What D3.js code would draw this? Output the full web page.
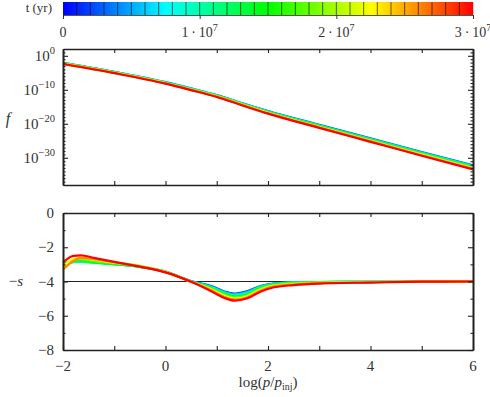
<!DOCTYPE html>
<html>
<head>
<meta charset="utf-8">
<script src="https://cdn.jsdelivr.net/npm/d3@7/dist/d3.min.js"></script>
<style>
  body { margin: 0; background: #fff; }
  text { font-family: "Liberation Serif", "DejaVu Serif", serif; fill: #333; }
</style>
</head>
<body>
<div id="chart"></div>
<script>
// snapshot times (yr), early -> late
const times = [2.5e6, 6e6, 10e6, 14e6, 18e6, 22e6, 26e6, 30e6];

// top panel: log10 f at log(p/pinj)
const fGrid = [-2, -1, 0, 0.5, 1, 1.5, 2, 3, 4, 5, 6];
const logF = [
  [-2.05, -4.70, -7.75, -9.60, -11.55, -13.95, -16.25, -20.30, -24.30, -28.30, -32.20],
  [-2.10, -4.76, -7.82, -9.67, -11.63, -14.04, -16.36, -20.43, -24.44, -28.46, -32.37],
  [-2.15, -4.82, -7.88, -9.74, -11.71, -14.12, -16.46, -20.56, -24.59, -28.61, -32.54],
  [-2.20, -4.87, -7.94, -9.82, -11.79, -14.21, -16.57, -20.69, -24.73, -28.77, -32.71],
  [-2.25, -4.93, -8.01, -9.89, -11.86, -14.30, -16.67, -20.82, -24.87, -28.93, -32.89],
  [-2.30, -4.99, -8.07, -9.96, -11.94, -14.39, -16.78, -20.94, -25.01, -29.08, -33.06],
  [-2.35, -5.04, -8.14, -10.03, -12.02, -14.48, -16.89, -21.07, -25.16, -29.24, -33.23],
  [-2.40, -5.10, -8.20, -10.10, -12.10, -14.60, -17.00, -21.20, -25.30, -29.40, -33.40]
];

// bottom panel: -s
const sGrid = [-2, -1.8, -1.65, -1.4, -1, -0.5, 0, 0.5, 0.9, 1.15, 1.35, 1.6, 1.85, 2.1, 2.5, 3, 4, 5, 6];
const minusS = [
  [-3.05, -2.85, -2.80, -2.85, -2.97, -3.15, -3.42, -3.98, -4.27, -4.58, -4.70, -4.56, -4.27, -4.12, -4.05, -4.03, -4.02, -4.01, -4.0],
  [-3.05, -2.85, -2.82, -2.87, -2.97, -3.15, -3.43, -3.99, -4.31, -4.62, -4.75, -4.62, -4.30, -4.13, -4.05, -4.03, -4.02, -4.01, -4.0],
  [-3.05, -2.87, -2.85, -2.90, -2.98, -3.14, -3.43, -4.00, -4.35, -4.67, -4.81, -4.68, -4.33, -4.15, -4.06, -4.03, -4.02, -4.01, -4.0],
  [-3.00, -2.80, -2.80, -2.90, -3.00, -3.13, -3.44, -4.00, -4.39, -4.72, -4.87, -4.74, -4.37, -4.18, -4.08, -4.04, -4.02, -4.01, -4.0],
  [-3.10, -2.75, -2.70, -2.80, -2.93, -3.08, -3.44, -4.01, -4.43, -4.78, -4.93, -4.80, -4.42, -4.22, -4.11, -4.06, -4.03, -4.01, -4.0],
  [-3.20, -2.68, -2.62, -2.73, -2.90, -3.10, -3.45, -4.01, -4.48, -4.84, -4.99, -4.86, -4.48, -4.26, -4.15, -4.08, -4.04, -4.01, -4.0],
  [-3.30, -2.80, -2.62, -2.70, -2.87, -3.12, -3.46, -4.02, -4.53, -4.90, -5.05, -4.92, -4.54, -4.30, -4.18, -4.10, -4.05, -4.01, -4.0],
  [-2.90, -2.50, -2.47, -2.62, -2.85, -3.13, -3.47, -4.02, -4.58, -4.96, -5.12, -4.98, -4.60, -4.35, -4.21, -4.12, -4.06, -4.01, -4.0]
];

const xTicks = [-2, 0, 2, 4, 6];
const fTicks = [0, -10, -20, -30];
const sTicks = [0, -2, -4, -6, -8];
const cbTicks = [0, 1e7, 2e7, 3e7];
const cbLabels = [["0", ""], ["1\u2009·\u200910", "7"], ["2\u2009·\u200910", "7"], ["3\u2009·\u200910", "7"]];

const W = 490, H = 397;
const L = 63, R = 473;

const svg = d3.select("#chart").append("svg")
  .attr("width", W).attr("height", H);

const color = t => d3.hsl(240 * (1 - t / 3e7), 1, 0.5).toString();

const x = d3.scaleLinear().domain([-2, 6]).range([L, R]);
const yF = d3.scaleLinear().domain([-38, 2]).range([185, 49]);
const yS = d3.scaleLinear().domain([-8, 0]).range([350, 213]);
const cb = d3.scaleLinear().domain([0, 3e7]).range([L, R]);

// ---- colour bar
const cbG = svg.append("g");
cbG.selectAll("rect").data(d3.range(0, 3e7, 3e7 / 410)).enter().append("rect")
  .attr("x", d => cb(d))
  .attr("y", 2)
  .attr("width", 1.2)
  .attr("height", 13)
  .attr("fill", d => color(d));
cbG.selectAll(".sep").data(d3.range(1e6, 3e7, 1e6)).enter().append("line")
  .attr("x1", d => cb(d)).attr("x2", d => cb(d))
  .attr("y1", 2).attr("y2", 15)
  .attr("stroke", "#000").attr("stroke-opacity", 0.6);
cbG.append("g").attr("transform", "translate(0,15)")
  .call(d3.axisBottom(cb).tickValues(cbTicks).tickSize(4).tickSizeOuter(0).tickFormat(""))
  .call(g => g.select(".domain").attr("stroke", "#555"))
  .call(g => g.selectAll(".tick line").attr("stroke", "#333"));
cbTicks.forEach((t, i) => {
  const tx = cbG.append("text").attr("x", cb(t)).attr("y", 37)
    .attr("text-anchor", "middle").style("font-size", "14px");
  tx.append("tspan").text(cbLabels[i][0]);
  if (cbLabels[i][1]) tx.append("tspan").attr("dy", -6).style("font-size", "10px").text(cbLabels[i][1]);
});
svg.append("text").attr("x", 52).attr("y", 12).attr("text-anchor", "end")
  .style("font-size", "13px").text("t (yr)");

// ---- axes helper
function frame(y, top, bottom, majors, minors) {
  const g = svg.append("g");
  const sx = d3.range(-2, 7);
  g.append("g").attr("transform", `translate(0,${bottom})`)
    .call(d3.axisBottom(x).tickValues(sx).tickSize(-4).tickSizeOuter(0).tickFormat(""));
  g.append("g").attr("transform", `translate(0,${top})`)
    .call(d3.axisTop(x).tickValues(sx).tickSize(-4).tickSizeOuter(0).tickFormat(""));
  g.append("g").attr("transform", `translate(${L},0)`)
    .call(d3.axisLeft(y).tickValues(majors).tickSize(-5).tickSizeOuter(0).tickFormat(""));
  g.append("g").attr("transform", `translate(${R},0)`)
    .call(d3.axisRight(y).tickValues(majors).tickSize(-5).tickSizeOuter(0).tickFormat(""));
  g.append("g").attr("transform", `translate(${L},0)`)
    .call(d3.axisLeft(y).tickValues(minors).tickSize(-2.5).tickSizeOuter(0).tickFormat(""));
  g.append("g").attr("transform", `translate(${R},0)`)
    .call(d3.axisRight(y).tickValues(minors).tickSize(-2.5).tickSizeOuter(0).tickFormat(""));
  g.selectAll(".domain").attr("stroke", "#222").attr("stroke-width", 1.6);
  g.selectAll(".tick line").attr("stroke", "#222").attr("stroke-width", 1.1);
  return g;
}

// ---- top panel
const lineF = d3.line().x((d, i) => x(fGrid[i])).y(d => yF(d)).curve(d3.curveMonotoneX);
svg.append("g").selectAll("path").data(logF).enter().append("path")
  .attr("d", lineF)
  .attr("fill", "none")
  .attr("stroke", (d, i) => color(times[i]))
  .attr("stroke-width", 2.2);
frame(yF, 49, 185, fTicks, d3.range(-37, 2).filter(v => v % 10 !== 0));
fTicks.forEach(v => {
  const t = svg.append("text").attr("x", 55).attr("y", yF(v) + 5)
    .attr("text-anchor", "end").style("font-size", "15px");
  t.append("tspan").text("10");
  t.append("tspan").attr("dy", -7).style("font-size", "10.5px").text(v === 0 ? "0" : "\u2212" + (-v));
});
svg.append("text").attr("x", 8).attr("y", 124).attr("text-anchor", "middle")
  .style("font-size", "16px").style("font-style", "italic").text("f");

// ---- bottom panel
svg.append("line").attr("x1", L).attr("x2", R)
  .attr("y1", yS(-4)).attr("y2", yS(-4))
  .attr("stroke", "#222").attr("stroke-width", 1.1);
const lineS = d3.line().x((d, i) => x(sGrid[i])).y(d => yS(d)).curve(d3.curveMonotoneX);
svg.append("g").selectAll("path").data(minusS).enter().append("path")
  .attr("d", lineS)
  .attr("fill", "none")
  .attr("stroke", (d, i) => color(times[i]))
  .attr("stroke-width", 2.2);
frame(yS, 213, 350, sTicks, [-1, -3, -5, -7]);
sTicks.forEach(v => {
  svg.append("text").attr("x", 54).attr("y", yS(v) + 5)
    .attr("text-anchor", "end").style("font-size", "15px")
    .text(v === 0 ? "0" : "\u2212" + (-v));
});
xTicks.forEach(v => {
  svg.append("text").attr("x", x(v)).attr("y", 371)
    .attr("text-anchor", "middle").style("font-size", "15px")
    .text(v < 0 ? "\u2212" + (-v) : v);
});
svg.append("text").attr("x", 16).attr("y", 286).attr("text-anchor", "middle")
  .style("font-size", "15px")
  .call(t => {
    t.append("tspan").text("\u2212");
    t.append("tspan").style("font-style", "italic").text("s");
  });
const xl = svg.append("text").attr("x", 268).attr("y", 387).attr("text-anchor", "middle")
  .style("font-size", "15px");
xl.append("tspan").text("log(");
xl.append("tspan").style("font-style", "italic").text("p");
xl.append("tspan").text("/");
xl.append("tspan").style("font-style", "italic").text("p");
xl.append("tspan").attr("dy", 3).style("font-size", "10px").text("inj");
xl.append("tspan").attr("dy", -3).text(")");
</script>
</body>
</html>
